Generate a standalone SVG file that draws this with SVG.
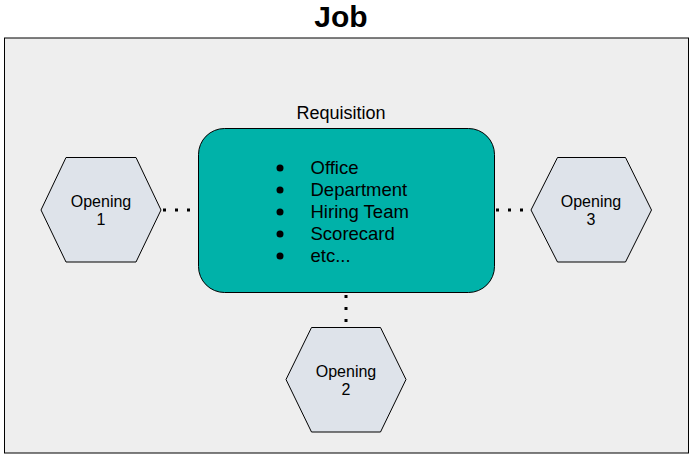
<svg xmlns="http://www.w3.org/2000/svg" width="694" height="458" viewBox="0 0 694 458">
<style>
text{font-family:"Liberation Sans",Arial,sans-serif;fill:#000}
.hex{fill:#dee3ea;stroke:#000;stroke-width:1}
.hl{font-size:16px;text-anchor:middle}
.li{font-size:18.5px}
.dot{stroke:#000;stroke-width:3;stroke-dasharray:3 9;fill:none}
</style>
<rect width="694" height="458" fill="#fff"/>
<g id="job">
<rect x="4.5" y="38" width="684" height="415" fill="#eeeeee" stroke="#000" stroke-width="1"/>
<text x="341" y="27" font-size="30" font-weight="bold" text-anchor="middle">Job</text>
</g>
<g id="connectors">
<line class="dot" x1="163" y1="210" x2="198" y2="210"/>
<line class="dot" x1="496" y1="210" x2="531" y2="210"/>
<line class="dot" x1="346" y1="295" x2="346" y2="327"/>
</g>
<g id="requisition">
<text x="341" y="119" font-size="18" text-anchor="middle">Requisition</text>
<rect x="198.5" y="128.5" width="296" height="164" rx="26" fill="#00b2a9" stroke="#000" stroke-width="1"/>
<g fill="#000">
<circle cx="280" cy="168" r="3.5"/>
<circle cx="280" cy="190" r="3.5"/>
<circle cx="280" cy="212" r="3.5"/>
<circle cx="280" cy="234" r="3.5"/>
<circle cx="280" cy="256" r="3.5"/>
</g>
<text class="li" x="310.5" y="174">Office</text>
<text class="li" x="310.5" y="196">Department</text>
<text class="li" x="310.5" y="218">Hiring Team</text>
<text class="li" x="310.5" y="240">Scorecard</text>
<text class="li" x="310.5" y="262">etc...</text>
</g>
<g id="opening1">
<polygon class="hex" points="41,210 66,157.5 136,157.5 161,210 136,262 66,262"/>
<text class="hl" x="101" y="207">Opening</text>
<text class="hl" x="101" y="225">1</text>
</g>
<g id="opening3">
<polygon class="hex" points="531,210 557.5,157.5 625.5,157.5 651.5,210 625.5,262 557.5,262"/>
<text class="hl" x="591" y="207">Opening</text>
<text class="hl" x="591" y="225">3</text>
</g>
<g id="opening2">
<polygon class="hex" points="286,379.5 311.5,327.5 380.5,327.5 406,379.5 380.5,432 311.5,432"/>
<text class="hl" x="346" y="377">Opening</text>
<text class="hl" x="346" y="395">2</text>
</g>
</svg>
